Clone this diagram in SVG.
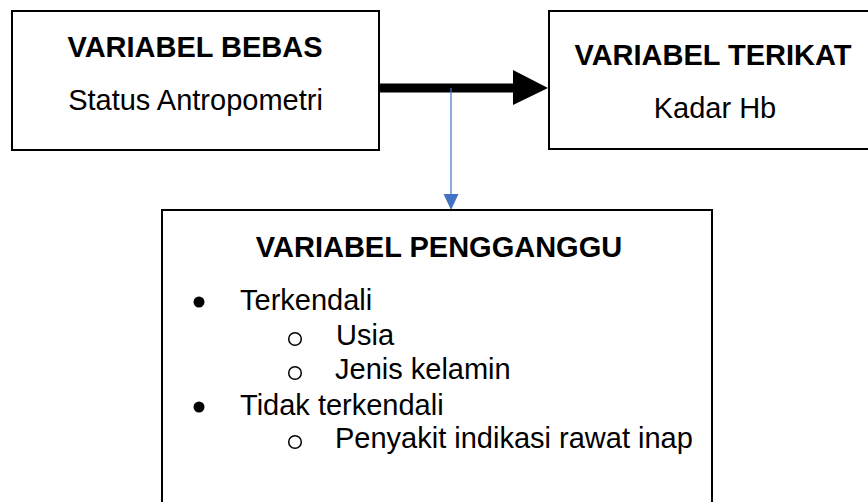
<svg xmlns="http://www.w3.org/2000/svg" width="868" height="502" viewBox="0 0 868 502">
<style>
.box{fill:#fff;stroke:#000;stroke-width:2}
.t{font-family:"Liberation Sans",Arial,sans-serif;font-size:29px;fill:#000}
.b{font-weight:bold}
.c{text-anchor:middle}
.dot{fill:#000}
.ring{fill:none;stroke:#000;stroke-width:1.5}
</style>
<rect width="868" height="502" fill="#fff"/>
<g id="connectors">
<line x1="379" y1="88" x2="514" y2="88" stroke="#000" stroke-width="9"/>
<polygon points="513,70 548,88 513,105" fill="#000"/>
<line x1="451" y1="88" x2="451" y2="195" stroke="#4472C4" stroke-width="1.2"/>
<polygon points="443.5,194 458.5,194 451,210" fill="#4472C4"/>
</g>
<g id="node-bebas">
<rect class="box" x="12" y="11" width="367" height="139"/>
<text class="t b c" x="195" y="57">VARIABEL BEBAS</text>
<text class="t c" x="195.5" y="110">Status Antropometri</text>
</g>
<g id="node-terikat">
<rect class="box" x="549" y="11" width="340" height="138"/>
<text class="t b c" x="713" y="65">VARIABEL TERIKAT</text>
<text class="t c" x="715" y="118">Kadar Hb</text>
</g>
<g id="node-pengganggu">
<rect class="box" x="162" y="210" width="550" height="310"/>
<text class="t b c" x="439" y="257">VARIABEL PENGGANGGU</text>
<circle class="dot" cx="199" cy="302" r="5.5"/>
<text class="t" x="240" y="310">Terkendali</text>
<circle class="ring" cx="295" cy="339" r="6.3"/>
<text class="t" x="336" y="345">Usia</text>
<circle class="ring" cx="295" cy="373" r="6.3"/>
<text class="t" x="335" y="379">Jenis kelamin</text>
<circle class="dot" cx="199" cy="407" r="5.5"/>
<text class="t" x="240" y="415">Tidak terkendali</text>
<circle class="ring" cx="295" cy="442" r="6.3"/>
<text class="t" x="335" y="448">Penyakit indikasi rawat inap</text>
</g>
</svg>
